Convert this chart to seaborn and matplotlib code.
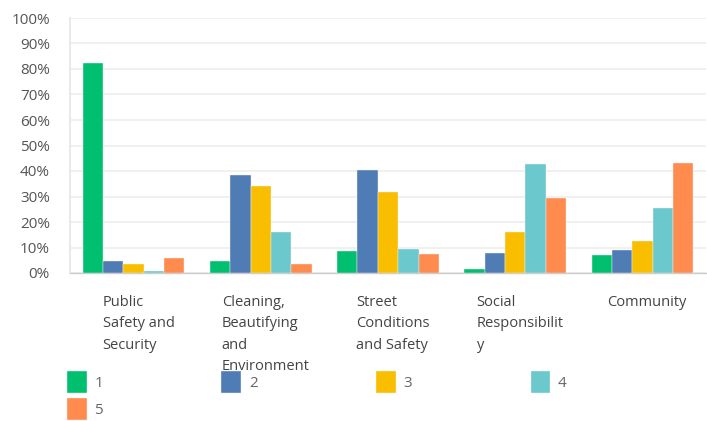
import pandas as pd
import seaborn as sns
import matplotlib.pyplot as plt
from matplotlib.transforms import ScaledTranslation

# chart data
categories = ["Public Safety and Security", "Cleaning, Beautifying and Environment",
              "Street Conditions and Safety", "Social Responsibility", "Community"]
tick_labels = ["Public\nSafety and\nSecurity", "Cleaning,\nBeautifying\nand\nEnvironment",
               "Street\nConditions\nand Safety", "Social\nResponsibilit\ny", "Community"]
ratings = ["1", "2", "3", "4", "5"]
r1 = [82.5, 4.9, 8.5, 1.7, 7.0]
r2 = [4.9, 38.4, 40.5, 8.0, 9.0]
r3 = [3.7, 34.2, 31.6, 15.9, 12.7]
r4 = [0.7, 15.9, 9.6, 42.6, 25.3]
r5 = [5.9, 3.7, 7.5, 29.5, 43.1]
colors = ["#00BF6F", "#507CB6", "#F9BE00", "#6BC8CD", "#FF8B4F"]

rows = []
for rating, vals in zip(ratings, [r1, r2, r3, r4, r5]):
    for cat, v in zip(categories, vals):
        rows.append({"category": cat, "rating": rating, "value": v})
df = pd.DataFrame(rows)

sns.set_theme(style="white")
plt.rcParams['font.family'] = ['Open Sans', 'DejaVu Sans']

fig = plt.figure(figsize=(7.07, 4.21), dpi=100)
ax = fig.add_axes([70 / 707, 1 - 273 / 421, 636 / 707, 255 / 421])

sns.barplot(data=df, x="category", y="value", hue="rating", order=categories,
            hue_order=ratings, palette=colors, saturation=1, width=0.8,
            edgecolor="#F4F4F4", linewidth=0.3, ax=ax)
for bar in ax.patches:
    bar.set_zorder(3)

ax.set_ylim(0, 100)
ax.set_yticks(range(0, 101, 10))
ax.set_yticklabels([f"{v}%" for v in range(0, 101, 10)], color="#555555", fontsize=11)
ax.yaxis.grid(True, color="#EEEEEE", linewidth=1.2)
ax.set_axisbelow(True)
ax.tick_params(axis="y", length=0, pad=14.5)
ax.tick_params(axis="x", length=0, pad=16)

ax.set_xticks(range(len(categories)))
ax.set_xticklabels(tick_labels, fontsize=10.5, color="#444444",
                   multialignment="left", linespacing=1.57)
shift = ScaledTranslation(3.5 / 72, 0, fig.dpi_scale_trans)
for lab in ax.get_xticklabels():
    lab.set_transform(lab.get_transform() + shift)

ax.set_xlabel("")
ax.set_ylabel("")
for side in ["top", "right"]:
    ax.spines[side].set_visible(False)
ax.spines["left"].set_color("#E6E6E6")
ax.spines["bottom"].set_color("#CCCCCC")
ax.spines["bottom"].set_linewidth(1.0)

# legend fills row by row: 1 2 3 4 / 5
handles, labels = ax.get_legend_handles_labels()
ax.get_legend().remove()
order = [0, 4, 1, 2, 3]
leg = fig.legend([handles[i] for i in order], [labels[i] for i in order],
                 loc="upper left", bbox_to_anchor=(53 / 707, 1 - 357 / 421),
                 ncol=4, frameon=False, fontsize=11, handlelength=1.3, handleheight=1.85,
                 handletextpad=0.5, columnspacing=7.75, labelspacing=0.33)
for t in leg.get_texts():
    t.set_color("#666666")

fig.savefig("out.png", dpi=100)
